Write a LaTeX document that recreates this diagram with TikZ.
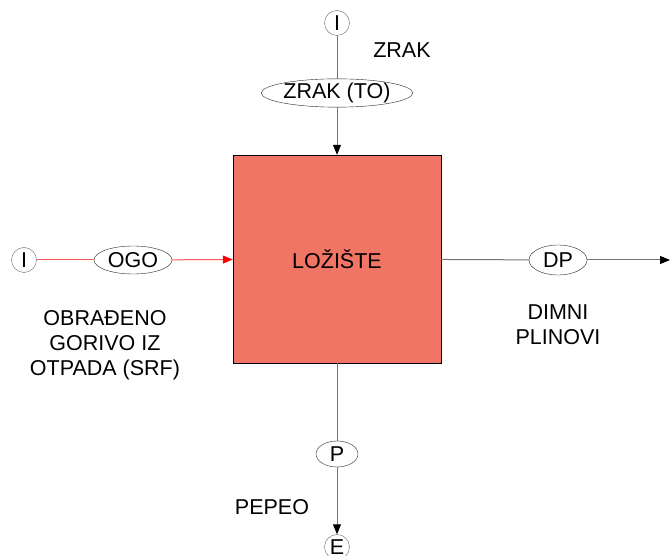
\documentclass[tikz,border=0pt]{standalone}
\usepackage{fontspec}
\setmainfont{Liberation Sans}
\usepackage{xcolor}
\usetikzlibrary{arrows.meta,shapes.geometric}
\definecolor{furnace}{RGB}{240,117,100}
\tikzset{
  tok stream/.style={
    ellipse,
    draw=black!85,
    fill=white,
    inner sep=0pt,
    minimum height=28pt,
    font=\fontsize{21.5}{25}\selectfont,
  },
  tok port/.style={
    circle,
    draw=black!60,
    fill=white,
    inner sep=0pt,
    minimum size=25pt,
    font=\fontsize{21.5}{25}\selectfont,
  },
  tok unit/.style={
    rectangle,
    draw=black,
    fill=furnace,
    minimum size=208pt,
    inner sep=0pt,
    font=\fontsize{21.5}{25}\selectfont,
  },
  tok label/.style={align=center, font=\fontsize{21.5}{25}\selectfont, inner sep=0pt},
  tok arrow/.style={-{Triangle[length=10pt,width=8pt,fill=black,color=black]}, draw=black!55, line width=1pt},
  tok line/.style={draw=black!55, line width=1pt},
}
\begin{document}
\begin{tikzpicture}[x=1pt,y=-1pt]
  \useasboundingbox (0,0) rectangle (670,556);

  \node[tok unit] (loz) at (337,259) {LOŽIŠTE};

  % dovod zraka
  \node[tok port] (airin) at (337,23) {I};
  \node[tok stream,minimum width=138pt] (air) at (337,93) {ZRAK (TO)};
  \node[tok label] (airtxt) at (402,50) {ZRAK};

  % gorivo
  \node[tok port] (fuelin) at (24,260) {I};
  \node[tok stream,minimum width=78pt] (ogo) at (133,260) {OGO};
  \node[tok label] (fueltxt) at (105,345) {OBRAĐENO\\GORIVO IZ\\OTPADA (SRF)};

  % dimni plinovi
  \node[tok stream,minimum width=58pt,minimum height=30pt] (dp) at (558,260) {DP};
  \node[tok label] (dptxt) at (558,325) {DIMNI\\PLINOVI};
  \coordinate (dpout) at (670,260);

  % pepeo
  \node[tok stream,minimum width=42pt,minimum height=26pt] (ash) at (337,454) {P};
  \node[tok port] (ashout) at (337,547) {E};
  \node[tok label] (ashtxt) at (272,507) {PEPEO};

  \draw[tok line] (airin) -- (air);
  \draw[tok arrow] (air) -- (loz);

  \draw[draw=red!65, line width=1pt] (fuelin) -- (ogo);
  \draw[draw=red!65, line width=1pt, -{Triangle[length=10pt,width=8pt,fill=red,color=red]}] (ogo) -- (loz);

  \draw[tok line] (loz) -- (dp);
  \draw[tok arrow] (dp) -- (dpout);

  \draw[tok line] (loz) -- (ash);
  \draw[tok arrow] (ash) -- (ashout);
\end{tikzpicture}
\end{document}
